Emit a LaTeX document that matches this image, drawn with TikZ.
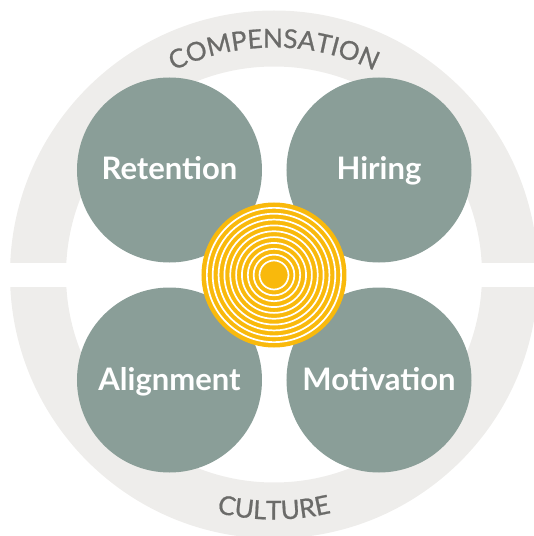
\documentclass[tikz,border=0pt]{standalone}
\usepackage{fontspec}
\setmainfont{Lato}
\newfontfamily\ringfont[FakeBold=0.8]{Lato}
\usetikzlibrary{decorations.text}
\definecolor{ringgray}{HTML}{EEEDEB}
\definecolor{sage}{HTML}{8A9E98}
\definecolor{gold}{HTML}{F9B90C}
\definecolor{labelgray}{HTML}{6B6B69}
\begin{document}
\begin{tikzpicture}[x=1pt,y=1pt,
  bubble/.style={circle, fill=sage, minimum size=185pt, inner sep=0pt},
  bubblelabel/.style={anchor=base, text=white, font=\fontsize{31}{31}\selectfont\bfseries},
  ringtext/.style={decorate, decoration={text along path, text align=center,
      text={|\ringfont\fontsize{26}{26}\selectfont\color{labelgray}|#1}}}
]
\useasboundingbox (-274,-261.5) rectangle (260,274.5);
\clip (-274,-261.5) rectangle (260,274.5);

% outer ring, split by a horizontal band
\fill[ringgray, even odd rule] (0,0) circle (264) (0,0) circle (208);
\fill[white] (-280,-12.5) rectangle (280,11.5);

% ring captions
\path[ringtext=COMPENSATION] (-227,0) arc[start angle=180, end angle=0, radius=227];
\path[ringtext=CULTURE] (-245,0) arc[start angle=180, end angle=360, radius=245];

% four topic circles
\node[bubble] (ret) at (-104.5,104.5) {};
\node[bubble] (hir) at (105,104.5) {};
\node[bubble] (ali) at (-104.5,-105.5) {};
\node[bubble] (mot) at (105,-105.5) {};

\node[bubblelabel] (retL) at ([yshift=-10]ret.center) {Retention};
\node[bubblelabel] (hirL) at ([yshift=-10]hir.center) {Hiring};
\node[bubblelabel] (aliL) at ([yshift=-10]ali.center) {Alignment};
\node[bubblelabel] (motL) at ([yshift=-10]mot.center) {Motivation};

% concentric core
\node[circle, fill=gold, minimum size=145pt, inner sep=0pt] (core) at (0,-0.5) {};
\foreach \k in {0,...,9}
  \draw[white, line width=1.7pt] (core.center) circle ({14.5+5.85*\k});
\end{tikzpicture}
\end{document}
